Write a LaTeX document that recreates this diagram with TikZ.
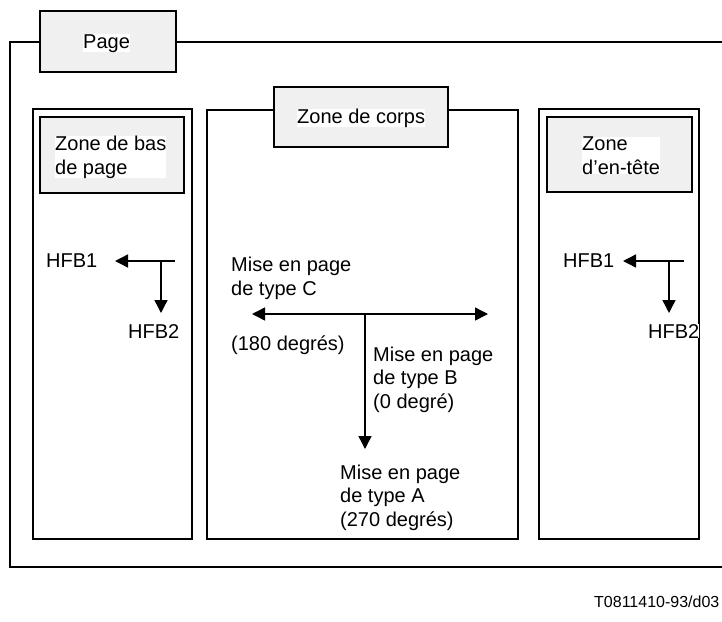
\documentclass[tikz,border=0pt]{standalone}
\usepackage{fontspec}
\setmainfont{Liberation Sans}
\usetikzlibrary{arrows.meta}
\definecolor{boxgray}{RGB}{240,240,240}
\begin{document}
\begin{tikzpicture}[x=1pt,y=-1pt,
  frame/.style={draw, line width=1.1pt},
  tagbox/.style={draw, fill=boxgray, line width=1.1pt},
  txt/.style={font=\fontsize{20}{23.5}\selectfont, fill=white, inner sep=0pt, align=left, anchor=base west},
  arr/.style={line width=1.4pt, -{Triangle[length=13pt,width=13pt]}}]
\useasboundingbox (0,0) rectangle (722,621);
\clip (0,0) rectangle (722,621);

% page frame and its tag
\draw[frame] (10,42) rectangle (760,567);
\draw[tagbox] (40,11) rectangle (176,72);
\node[txt] (page) at (83,48) {Page};

% footer column (multi-line texts are placed by the baseline of their last line)
\draw[frame] (33,109) rectangle (192,539);
\draw[tagbox] (40,117) rectangle (184,193);
\node[txt] (bas) at (55,174) {Zone de bas\\de page};

% body column
\draw[frame] (207,110) rectangle (518,539);
\draw[tagbox] (274,87) rectangle (448,147);
\node[txt] (corps) at (297,123) {Zone de corps};

% header column
\draw[frame] (539,109) rectangle (699,539);
\draw[tagbox] (547,117) rectangle (692,192);
\node[txt] (tete) at (582,174) {Zone\\d’en-tête};

% footer directions
\node[txt] (lh1) at (46,267) {HFB1};
\node[txt] (lh2) at (128,338) {HFB2};
\coordinate (ls) at (175,261);
\coordinate (lc) at (161,261);
\coordinate (lt1) at (115,261);
\coordinate (lt2) at (161,313);
\draw[arr] (ls) -- (lt1);
\draw[arr] (lc) -- (lt2);

% header directions
\node[txt] (rh1) at (563,267) {HFB1};
\node[txt] (rh2) at (648,338) {HFB2};
\coordinate (rs) at (684,261);
\coordinate (rc) at (669,261);
\coordinate (rt1) at (623,261);
\coordinate (rt2) at (669,313);
\draw[arr] (rs) -- (rt1);
\draw[arr] (rc) -- (rt2);

% body orientations
\node[txt] (typec) at (231,295) {Mise en page\\de type C};
\node[txt] (deg180) at (231,350) {(180 degrés)};
\node[txt] (typeb) at (373,408) {Mise en page\\de type B\\(0 degré)};
\node[txt] (typea) at (340,526) {Mise en page\\de type A\\(270 degrés)};
\coordinate (cc) at (365,314);
\coordinate (cl) at (252,314);
\coordinate (cr) at (488,314);
\coordinate (cd) at (365,449);
\draw[arr] (cc) -- (cl);
\draw[arr] (cc) -- (cr);
\draw[arr] (cc) -- (cd);

% reference number
\node[font=\fontsize{16}{19}\selectfont, inner sep=0pt, anchor=base west] (ref) at (594,607) {T0811410-93/d03};
\end{tikzpicture}
\end{document}
